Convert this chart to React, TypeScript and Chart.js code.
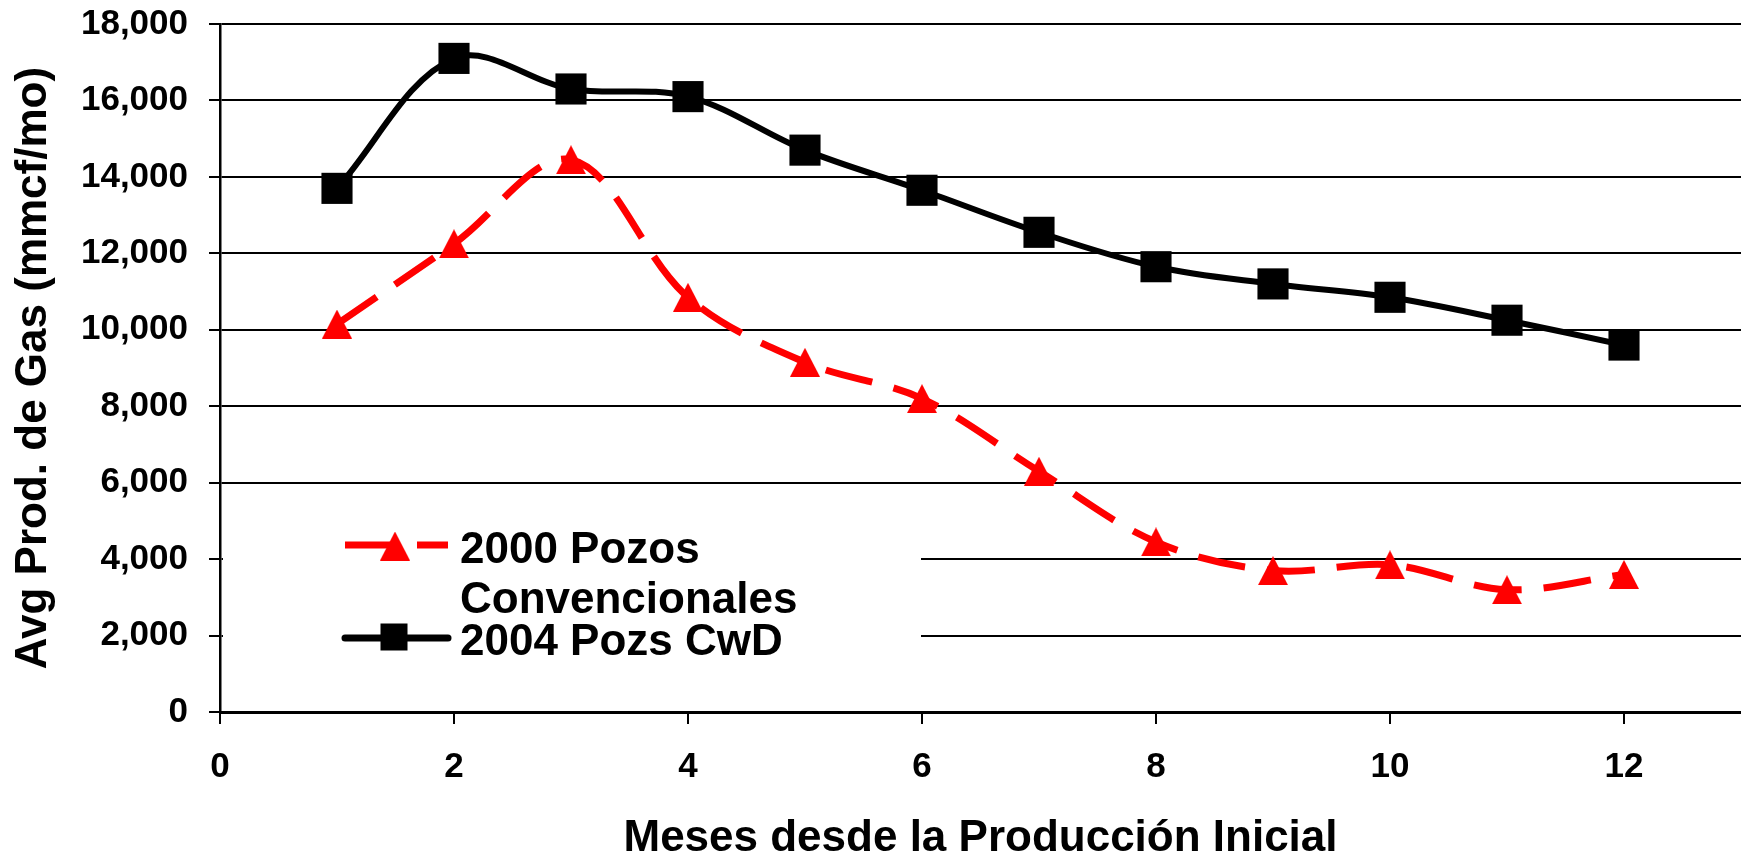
import React, { useEffect, useRef } from 'react';
import { Chart, registerables } from 'chart.js';

Chart.register(...registerables);

// ---- data ----
const months = [1, 2, 3, 4, 5, 6, 7, 8, 9, 10, 11, 12];
const conventional = [10150, 12250, 14450, 10850, 9150, 8200, 6300, 4450, 3700, 3850, 3200, 3600];
const cwd = [13700, 17100, 16300, 16100, 14700, 13650, 12550, 11650, 11200, 10850, 10250, 9600];
const seriesLabels = ['2000 Pozos Convencionales', '2004 Pozs CwD'];
const legendLines = [['2000 Pozos', 'Convencionales'], ['2004 Pozs CwD']];
const xTitle = 'Meses desde la Producción Inicial';
const yTitle = 'Avg Prod. de Gas (mmcf/mo)';
const xTickValues = [0, 2, 4, 6, 8, 10, 12];
const xMin = 0;
const xMax = 13;
const yMin = 0;
const yMax = 18000;
const yStep = 2000;

const RED = '#ff0000';
const BLACK = '#000000';
const FONT = "'Liberation Sans', Arial, Helvetica, sans-serif";

const zeroPadding = () => ({ left: 0, top: 0, right: 0, bottom: 0 });

function makeTriangle(w: number, h: number, color: string): HTMLCanvasElement {
  const c = document.createElement('canvas');
  c.width = w;
  c.height = h;
  const g = c.getContext('2d')!;
  g.fillStyle = color;
  g.beginPath();
  g.moveTo(w / 2, 0);
  g.lineTo(w, h);
  g.lineTo(0, h);
  g.closePath();
  g.fill();
  return c;
}

export default function App() {
  const ref = useRef<HTMLCanvasElement | null>(null);

  useEffect(() => {
    const canvas = ref.current;
    if (!canvas) return;
    const tri = makeTriangle(30, 29, RED);

    const legendPlugin = {
      id: 'boxLegend',
      afterDatasetsDraw(chart: any) {
        const ctx = chart.ctx as CanvasRenderingContext2D;
        ctx.save();
        ctx.fillStyle = '#ffffff';
        ctx.fillRect(223, 505, 698, 175);

        // entry 1: red dashed with triangle
        ctx.strokeStyle = RED;
        ctx.lineWidth = 7;
        ctx.lineCap = 'butt';
        ctx.setLineDash([50, 22]);
        ctx.beginPath();
        ctx.moveTo(345, 545);
        ctx.lineTo(448, 545);
        ctx.stroke();
        ctx.setLineDash([]);
        ctx.drawImage(tri, 395 - 15, 546 - 14.5);

        // entry 2: black solid with square
        ctx.strokeStyle = BLACK;
        ctx.lineWidth = 7;
        ctx.lineCap = 'round';
        ctx.beginPath();
        ctx.moveTo(345, 638);
        ctx.lineTo(448, 638);
        ctx.stroke();
        ctx.fillStyle = BLACK;
        ctx.fillRect(394 - 13.5, 637 - 13.5, 27, 27);

        ctx.fillStyle = BLACK;
        ctx.font = `bold 44px ${FONT}`;
        ctx.textAlign = 'left';
        ctx.textBaseline = 'alphabetic';
        ctx.fillText(legendLines[0][0], 460, 563);
        ctx.fillText(legendLines[0][1], 460, 613);
        ctx.fillText(legendLines[1][0], 460, 655);
        ctx.restore();
      },
    };

    const chart = new Chart(canvas, {
      type: 'line',
      data: {
        datasets: [
          {
            label: seriesLabels[0],
            data: months.map((m, i) => ({ x: m, y: conventional[i] })),
            borderColor: RED,
            backgroundColor: RED,
            borderWidth: 7,
            borderDash: [48, 22],
            borderCapStyle: 'butt',
            tension: 0.35,
            pointStyle: tri,
            pointRadius: 15,
            fill: false,
          },
          {
            label: seriesLabels[1],
            data: months.map((m, i) => ({ x: m, y: cwd[i] })),
            borderColor: BLACK,
            backgroundColor: BLACK,
            borderWidth: 6,
            tension: 0.35,
            pointStyle: 'rect',
            pointRadius: 22,
            pointBorderWidth: 0,
            fill: false,
          },
        ],
      },
      options: {
        responsive: false,
        animation: false,
        devicePixelRatio: 1,
        layout: { autoPadding: false, padding: { top: 24, left: 0, right: 0, bottom: 0 } },
        plugins: {
          legend: { display: false },
          tooltip: { enabled: false },
          title: { display: false },
        },
        scales: {
          x: {
            type: 'linear',
            min: xMin,
            max: xMax,
            afterBuildTicks: (s: any) => {
              s.ticks = xTickValues.map((v) => ({ value: v }));
            },
            afterFit: (s: any) => {
              s.height = 149;
              s.paddingRight = 0;
              s.paddingLeft = 0;
              s.paddingTop = 0;
              s.paddingBottom = 0;
              s.getPadding = zeroPadding;
            },
            ticks: {
              color: BLACK,
              font: { family: FONT, size: 35, weight: 'bold' },
              padding: 22,
              maxRotation: 0,
              autoSkip: false,
            },
            grid: {
              display: true,
              drawOnChartArea: false,
              drawTicks: true,
              tickLength: 12,
              color: BLACK,
              lineWidth: 2,
            },
            border: { display: true, color: BLACK, width: 3 },
            title: {
              display: true,
              text: xTitle,
              color: BLACK,
              font: { family: FONT, size: 44, weight: 'bold', lineHeight: 1.0 },
              padding: { top: 0, bottom: 0 },
            },
          },
          y: {
            type: 'linear',
            min: yMin,
            max: yMax,
            afterFit: (s: any) => {
              s.width = 220;
              s.paddingRight = 0;
              s.paddingLeft = 0;
              s.paddingTop = 0;
              s.paddingBottom = 0;
              s.getPadding = zeroPadding;
            },
            ticks: {
              stepSize: yStep,
              color: BLACK,
              font: { family: FONT, size: 35, weight: 'bold' },
              padding: 21,
              callback: (v: any) => Number(v).toLocaleString('en-US'),
            },
            grid: {
              display: true,
              drawOnChartArea: true,
              drawTicks: true,
              tickLength: 11,
              color: BLACK,
              lineWidth: 2,
            },
            border: { display: true, color: BLACK, width: 2.5 },
            title: {
              display: true,
              text: yTitle,
              color: BLACK,
              font: { family: FONT, size: 44, weight: 'bold', lineHeight: 1.2 },
              padding: { top: 7, bottom: 0 },
            },
          },
        },
      },
      plugins: [legendPlugin],
    } as any);

    return () => {
      chart.destroy();
    };
  }, []);

  return (
    <div style={{ position: 'absolute', left: 0, top: 0, width: 1741, height: 861, background: '#fff' }}>
      <canvas ref={ref} width={1741} height={861} style={{ display: 'block', width: 1741, height: 861 }} />
    </div>
  );
}
